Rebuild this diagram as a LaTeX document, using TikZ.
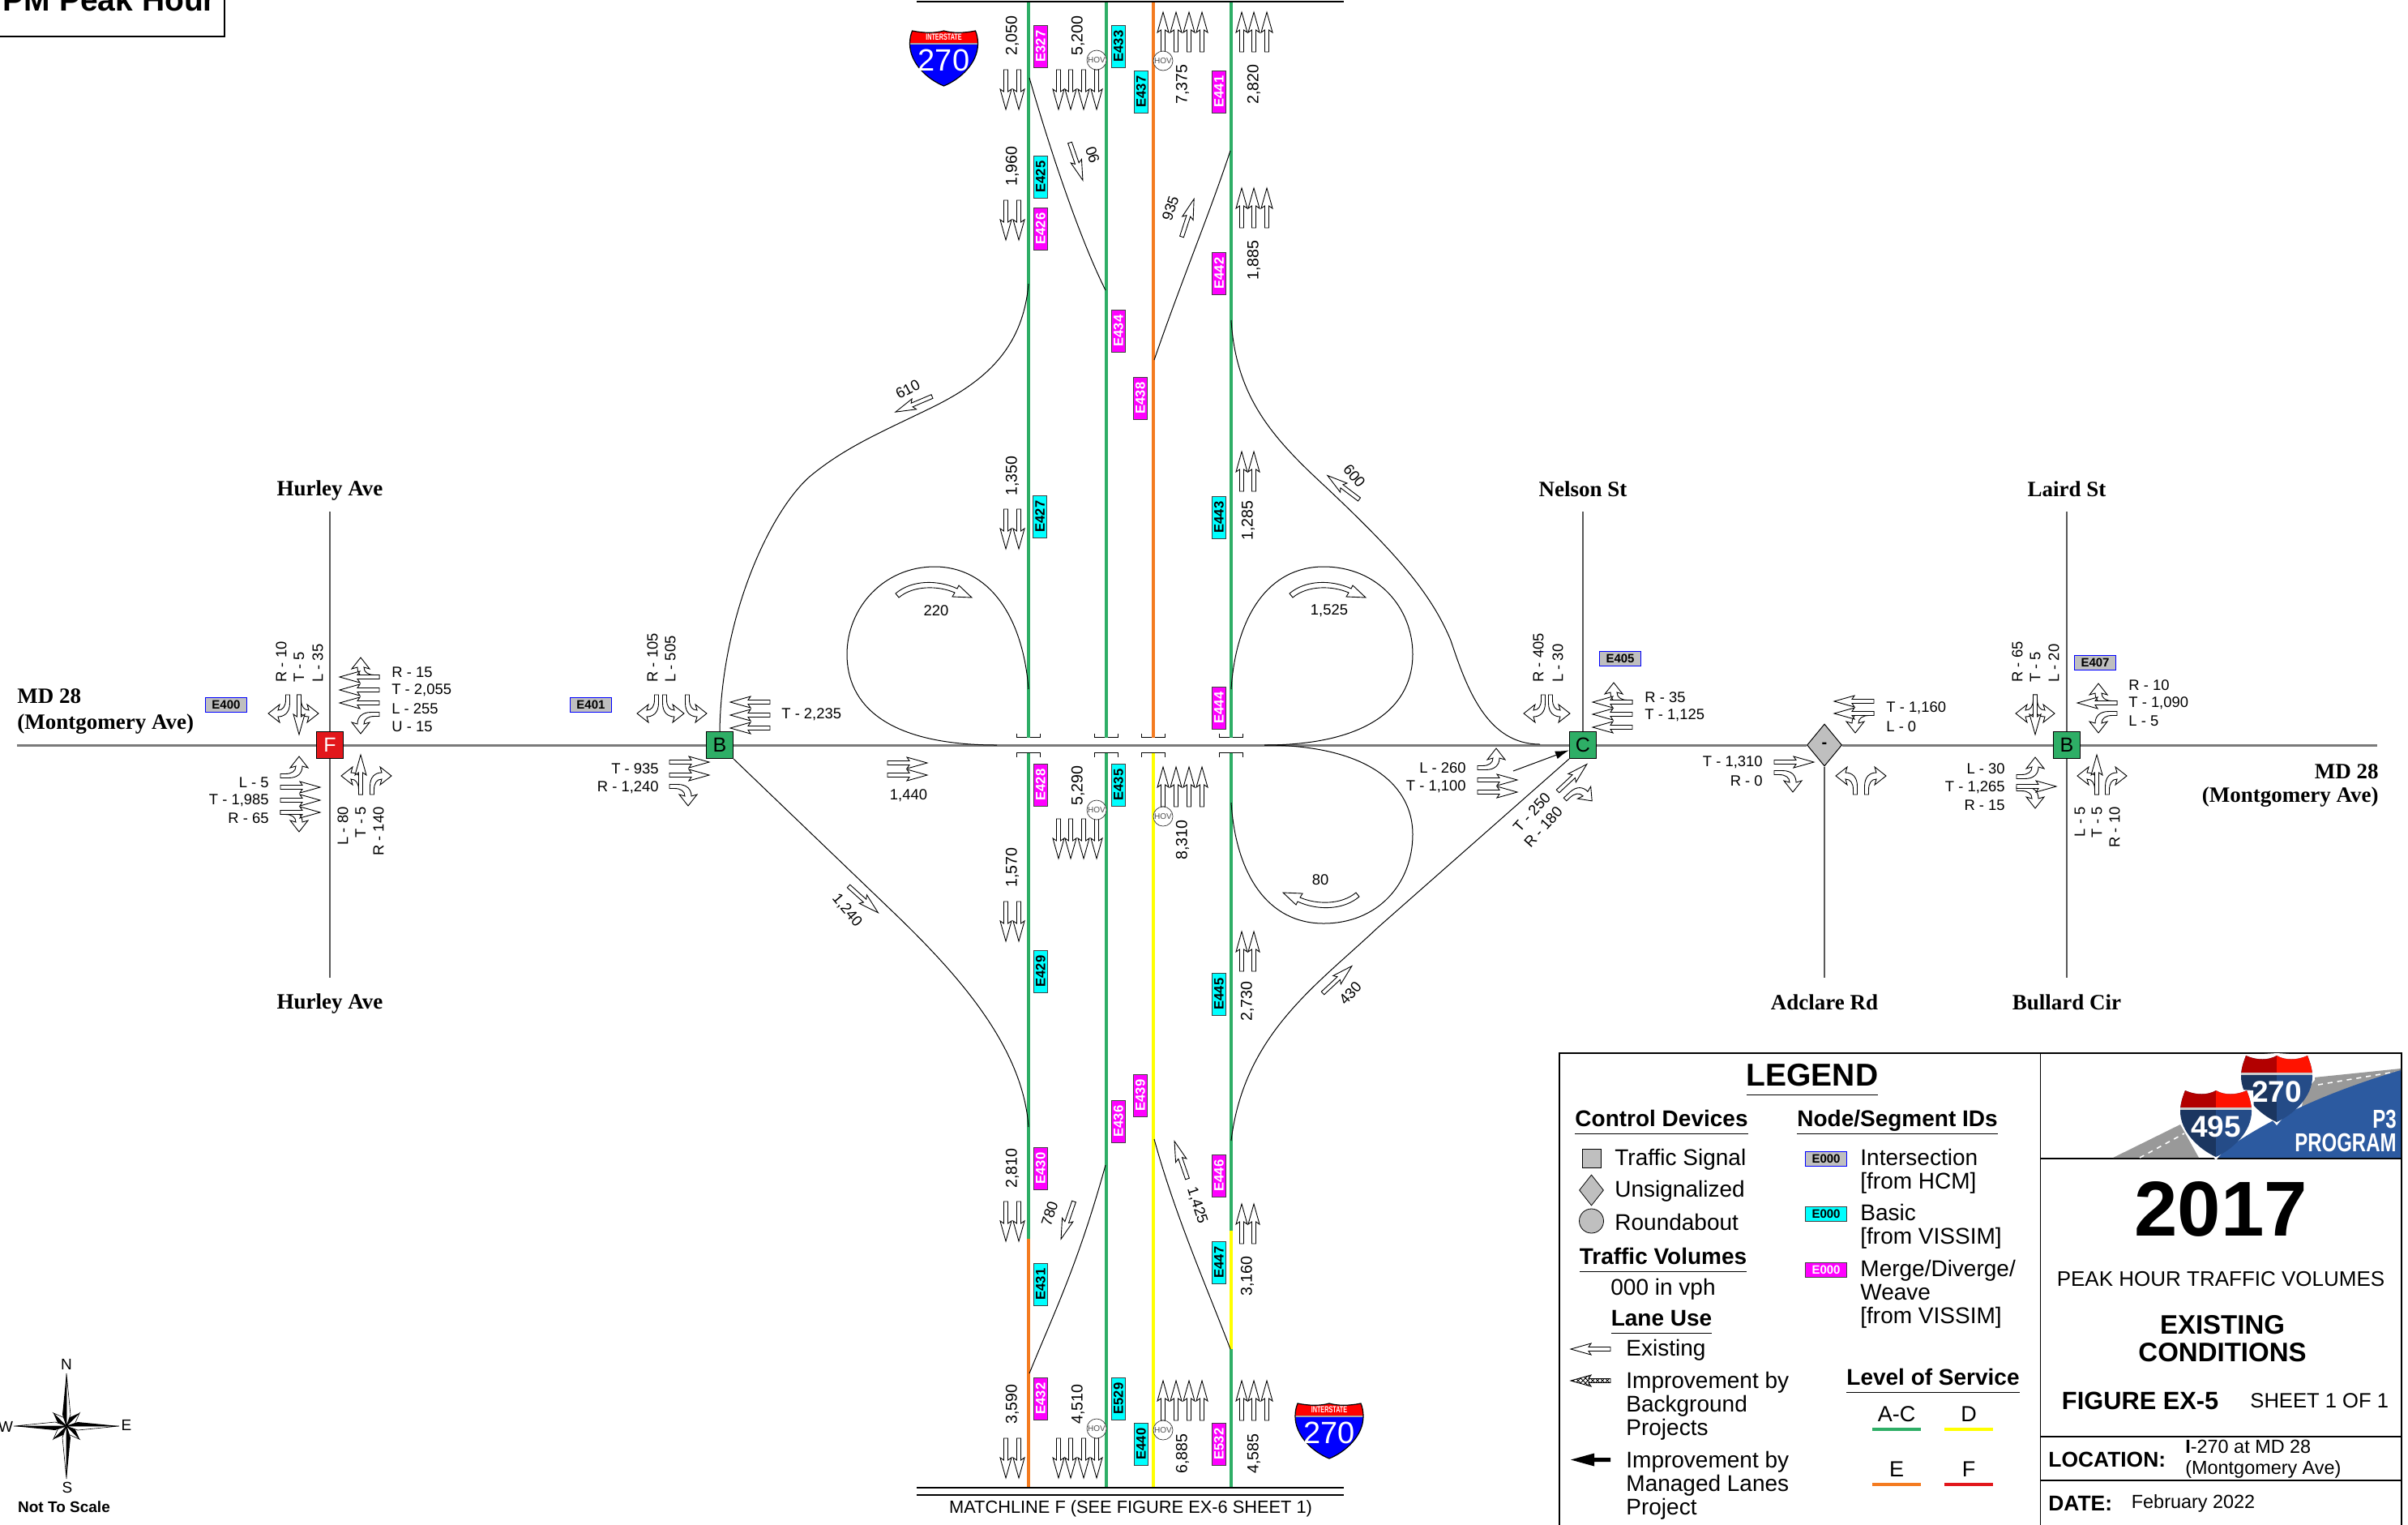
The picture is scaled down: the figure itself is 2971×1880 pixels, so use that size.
\documentclass[tikz,border=0pt]{standalone}
\usepackage{fontspec}
\setmainfont{Liberation Sans}
\newfontfamily\roadfont{Liberation Serif}
\usepackage{tikz}
\usetikzlibrary{arrows.meta,positioning,calc,shapes.geometric,patterns}
\definecolor{losgreen}{HTML}{2EAE66}
\definecolor{losorange}{HTML}{F47B20}
\definecolor{losyellow}{HTML}{FFFF00}
\definecolor{losred}{HTML}{E2171B}
\definecolor{idgrey}{HTML}{BFBFBF}
\definecolor{idcyan}{HTML}{00FFFF}
\definecolor{idmagenta}{HTML}{FF00FF}
\definecolor{shieldred}{HTML}{FF0000}
\definecolor{shieldblue}{HTML}{0000FF}
\definecolor{p3blue}{HTML}{2C5AA0}
\newcommand{\pt}[1]{\fontsize{#1}{#1}\selectfont}
\newcommand{\ultext}[1]{\underline{#1\vphantom{g}}}
% arrow outlines: tail at the origin, heading up
\newcommand{\thrushape}{(-2.5,0) -- (-2.5,-27) -- (-7,-24) -- (0,-49) -- (7,-24) -- (2.5,-27) -- (2.5,0) -- cycle}
\newcommand{\turnshape}{(2.5,0) -- (2.5,-10) .. controls (2.5,-22) and (-4,-27) .. (-12,-27) -- (-10,-34) -- (-24,-23) -- (-10,-12) -- (-12,-19) .. controls (-6,-19) and (-2.5,-14) .. (-2.5,-6) -- (-2.5,0) -- cycle}
\newcommand{\shieldshape}{(-39,0) .. controls (-25,3) and (-10,3) .. (0,0) .. controls (10,3) and (25,3) .. (39,0) .. controls (41,5) and (42,10) .. (42,16) .. controls (42,40) and (20,60) .. (0,68) .. controls (-20,60) and (-42,40) .. (-42,16) .. controls (-42,10) and (-41,5) .. (-39,0) -- cycle}
\newcommand{\logoshape}{(-38,0) .. controls (-25,6) and (-10,6) .. (0,0) .. controls (10,6) and (25,6) .. (38,0) .. controls (41,8) and (44,16) .. (44,26) .. controls (44,50) and (22,72) .. (0,82) .. controls (-22,72) and (-44,50) .. (-44,26) .. controls (-44,16) and (-41,8) .. (-38,0) -- cycle}
\tikzset{%
  lanearrow/.style={draw=black,fill=white,line width=0.45pt,line join=miter},
  pics/thruarrow/.style={code={\draw[lanearrow] \thrushape;}},
  pics/hatcharrow/.style={code={\draw[lanearrow,pattern=crosshatch] \thrushape;}},
  pics/blackarrow/.style={code={\fill[black] (-2.5,0) -- (-2.5,-20) -- (-8,-20) -- (0,-49) -- (8,-20) -- (2.5,-20) -- (2.5,0) -- cycle;}},
  pics/lturnarrow/.style={code={\draw[lanearrow] \turnshape;}},
  pics/rturnarrow/.style={code={\draw[lanearrow,xscale=-1] \turnshape;}},
  pics/arcarrow/.style={code={\draw[lanearrow] (-2,-3) .. controls (18,-20) and (50,-20) .. (74,-9) -- (76,-13) -- (92,2) -- (68,1) -- (71,-4) .. controls (50,-13) and (20,-13) .. (2,2) -- cycle;}},
  pics/longpoint/.style={code={%
    \draw[black,fill=white,line width=0.3pt] (0,0) -- (5,-14) -- (0,-65) -- cycle;
    \fill[black] (0,0) -- (-5,-14) -- (0,-65) -- cycle;}},
  pics/shortpoint/.style={code={%
    \draw[black,fill=white,line width=0.3pt] (0,0) -- (5,-10) -- (0,-23) -- cycle;
    \fill[black] (0,0) -- (-5,-10) -- (0,-23) -- cycle;}},
  pics/shield/.style={code={%
    \fill[shieldblue] \shieldshape;
    \begin{scope}
      \clip \shieldshape;
      \fill[shieldred] (-45,-5) rectangle (45,15);
      \fill[black!35] (-45,15) rectangle (45,16.5);
    \end{scope}
    \draw[black,line width=0.6pt] \shieldshape;
    \node[text=white,font=\bfseries\pt{5.5},inner sep=0] (-band) at (0,7.5) {\scalebox{0.66}[1]{INTERSTATE}};
    \node[text=white,font=\pt{19},inner sep=0] (-num) at (0,36) {270};}},
  pics/logoshield/.style={code={%
    \fill[white] (0,-3) -- (46,0) -- (47,30) -- (0,86) -- (-47,30) -- (-46,0) -- cycle;
    \begin{scope}
      \clip \logoshape;
      \fill[p3blue!85!black] (0,-5) rectangle (50,90);
      \fill[p3blue!60!black] (-50,-5) rectangle (0,90);
      \fill[shieldred!85!orange] (0,-5) rectangle (50,21);
      \fill[shieldred!70!black] (-50,-5) rectangle (0,21);
      \fill[white!80!black] (-50,21) rectangle (50,24);
    \end{scope}
    \node[text=white,font=\bfseries\pt{18.5},inner sep=0] (-num) at (0,45) {#1};}}
}

\begin{document}
\begin{tikzpicture}[
    x=0.5pt,
    y=-0.5pt,
    intnode/.style={draw=black,line width=0.6pt,minimum size=16.5pt,inner sep=0,font=\pt{12.5}},
    stopnode/.style={diamond,draw=black,line width=0.5pt,fill=idgrey,minimum width=21.5pt,minimum height=26pt,inner sep=0,font=\bfseries\pt{10}},
    roadname/.style={font=\roadfont\bfseries\pt{13.5}},
    turnlabel/.style={font=\pt{9.2},inner sep=0},
    vollabel/.style={font=\pt{9.8},inner sep=0},
    ramplabel/.style={font=\pt{9.2},inner sep=0},
    nodeid/.style={draw=blue,line width=0.5pt,fill=idgrey,minimum width=25.5pt,minimum height=9pt,inner sep=0,font=\bfseries\pt{7.5}},
    basicid/.style={draw=black!75,line width=0.5pt,fill=idcyan,rotate=90,minimum width=26pt,minimum height=8.5pt,inner sep=0,font=\bfseries\pt{8.3}},
    mergeid/.style={draw=black!75,line width=0.5pt,fill=idmagenta,text=white,rotate=90,minimum width=26pt,minimum height=8.5pt,inner sep=0,font=\bfseries\pt{8.3}},
    hovtag/.style={circle,draw=black!80,line width=0.35pt,fill=white,minimum size=12pt,inner sep=0,text=black!70,font=\pt{5}},
    road/.style={draw=black!52,line width=1.5pt},
    street/.style={draw=black!65,line width=0.7pt},
    ramp/.style={draw=black,line width=0.5pt},
    lane/.style={line width=1.7pt},
    legendhead/.style={font=\bfseries\pt{14},inner sep=0},
    legendtxt/.style={font=\fontsize{14}{14.5}\selectfont,align=left,anchor=west,inner sep=0},
    losbar/.style={line width=2pt}
]
\path[use as bounding box,clip] (0,0) rectangle (2971,1880);

% Intersections on MD 28
\node[intnode,fill=losred,text=white] (intF) at (407,919) {F};
\node[intnode,fill=losgreen] (intB) at (888,919) {B};
\node[intnode,fill=losgreen] (intC) at (1953,919) {C};
\node[stopnode] (intA) at (2251,919) {-};
\node[intnode,fill=losgreen] (intL) at (2550,919) {B};

\coordinate (mdwest) at (21,919);
\coordinate (mdeast) at (2933,919);
\draw[road] (mdwest) -- (intF) -- (intB) -- (intC) -- (intA) -- (intL) -- (mdeast);

\coordinate (hurleyN) at (407,631);
\coordinate (hurleyS) at (407,1206);
\coordinate (nelsonN) at (1953,631);
\coordinate (lairdN) at (2550,631);
\coordinate (lairdS) at (2550,1206);
\coordinate (adclareS) at (2251,1206);
\draw[street] (hurleyN) -- (intF) -- (hurleyS);
\draw[street] (nelsonN) -- (intC);
\draw[street] (lairdN) -- (intL) -- (lairdS);
\draw[street] (intA) -- (adclareS);

\node[roadname] (nameHurleyN) at (407,605) {Hurley Ave};
\node[roadname] (nameHurleyS) at (407,1238) {Hurley Ave};
\node[roadname] (nameNelson) at (1953,603) {Nelson St};
\node[roadname] (nameLaird) at (2550,603) {Laird St};
\node[roadname] (nameAdclare) at (2251,1236) {Adclare Rd};
\node[roadname] (nameBullard) at (2550,1236) {Bullard Cir};
\node[roadname,anchor=west,inner sep=0,align=left,font=\roadfont\bfseries\fontsize{13.5}{16}\selectfont] (nameMdW) at (21,877) {MD 28\\(Montgomery Ave)};
\node[roadname,anchor=east,inner sep=0,align=right,font=\roadfont\bfseries\fontsize{13.5}{14.5}\selectfont] (nameMdE) at (2935,969) {MD 28\\(Montgomery Ave)};

% Freeway lanes
\foreach \lname/\lx in {a/1269,b/1365,c/1423,d/1519} {
  \coordinate (\lname top) at (\lx,2);
  \coordinate (\lname upper) at (\lx,909.5);
  \coordinate (\lname lower) at (\lx,928.5);
  \coordinate (\lname bot) at (\lx,1835);
  \draw[line width=0.5pt] ($(\lname upper)+(-14.5,-5)$) -- ++(0,5) -- ++(29,0) -- ++(0,-5);
  \draw[line width=0.5pt] ($(\lname lower)+(-14.5,5)$) -- ++(0,-5) -- ++(29,0) -- ++(0,5);
}
\coordinate (aswitch) at (1269,1527.5);
\coordinate (dswitch) at (1519,1517.5);
\coordinate (dback) at (1519,1664);
\draw[lane,losgreen] (atop) -- (aupper);
\draw[lane,losgreen] (btop) -- (bupper);
\draw[lane,losorange] (ctop) -- (cupper);
\draw[lane,losgreen] (dtop) -- (dupper);
\draw[lane,losgreen] (alower) -- (aswitch);
\draw[lane,losorange] (aswitch) -- (abot);
\draw[lane,losgreen] (blower) -- (bbot);
\draw[lane,losyellow] (clower) -- (cbot);
\draw[lane,losgreen] (dlower) -- (dswitch);
\draw[lane,losyellow] (dswitch) -- (dback);
\draw[lane,losgreen] (dback) -- (dbot);

\coordinate (mltopL) at (1131,2);
\coordinate (mltopR) at (1658,2);
\coordinate (mlbotL) at (1131,1835);
\coordinate (mlbotR) at (1658,1835);
\coordinate (mlthinL) at (1131,1844);
\coordinate (mlthinR) at (1658,1844);
\draw[line width=1.3pt] (mltopL) -- (mltopR);
\draw[line width=1.3pt] (mlbotL) -- (mlbotR);
\draw[line width=0.6pt] (mlthinL) -- (mlthinR);
\node[font=\pt{10.9},inner sep=0] (matchline) at (1395,1861) {MATCHLINE F (SEE FIGURE EX-6 SHEET 1)};

% Ramps
\draw[ramp] (1270,96) .. controls (1300,200) and (1335,300) .. (1364,358);
\draw[ramp] (1424,444) .. controls (1460,340) and (1490,270) .. (1518,186);
\draw[ramp] (1364,1437) .. controls (1330,1560) and (1300,1620) .. (1270,1694);
\draw[ramp] (1424,1405) .. controls (1450,1500) and (1490,1590) .. (1518,1664);
\draw[ramp] (1269,350) .. controls (1262,430) and (1215,470) .. (1153,501) .. controls (1090,532) and (1045,550) .. (1000,587) .. controls (950,630) and (890,760) .. (intB.north);
\draw[ramp] (1519,395) .. controls (1525,490) and (1570,540) .. (1635,600) .. controls (1720,680) and (1765,730) .. (1790,790) .. controls (1810,850) and (1835,918) .. (1900,918);
\draw[ramp] (1269,850) .. controls (1262,760) and (1220,699) .. (1153,699) .. controls (1090,699) and (1045,750) .. (1045,807) .. controls (1045,870) and (1095,919) .. (1230,919);
\draw[ramp] (1519,850) .. controls (1525,760) and (1565,699) .. (1633,699) .. controls (1700,699) and (1743,750) .. (1743,807) .. controls (1743,870) and (1690,919) .. (1560,919);
\draw[ramp] (1560,919) .. controls (1690,919) and (1743,970) .. (1743,1029) .. controls (1743,1090) and (1700,1139) .. (1633,1139) .. controls (1565,1139) and (1525,1080) .. (1519,990);
\draw[ramp] (intB.south east) -- (1102,1125) .. controls (1180,1200) and (1262,1290) .. (1269,1390);
\draw[ramp] (intC.south west) -- (1700,1144) .. controls (1625,1215) and (1535,1275) .. (1519,1407);

% Freeway lane arrows
\foreach \py in {86,247,628,1112,1482,1774} \foreach \px in {1241,1257} \pic[rotate=180] at (\px,\py) {thruarrow};
\foreach \py in {86,1010,1774} \foreach \px in {1306,1321,1337,1353} \pic[rotate=180] at (\px,\py) {thruarrow};
\foreach \py in {64,995,1752} \foreach \px in {1435,1451,1467,1483} \pic at (\px,\py) {thruarrow};
\foreach \py in {64,281,1752} \foreach \px in {1532,1547,1563} \pic at (\px,\py) {thruarrow};
\foreach \py in {606,1198,1534} \foreach \px in {1532,1547} \pic at (\px,\py) {thruarrow};

% Turning movements and ramp arrows
\foreach \px/\py/\ang in {355/857/180,459/980/0,346/1002/-90,468/835/90,
    810/857/180,826/970/-90,1904/857/180,2014/866/90,1931/986/-47,
    2189/953/-90,2303/980/0,2511/857/180,2612/867/90,2488/973/-90,2600/980/0}
  \pic[rotate=\ang] at (\px,\py) {rturnarrow};
\foreach \px/\py/\ang in {369/857/180,468/881/90,346/957/-90,445/980/0,
    820/857/180,848/857/180,1823/947/-90,1913/857/180,
    2312/880/90,2289/980/0,2511/857/180,2612/880/90,2488/958/-90,2587/980/0}
  \pic[rotate=\ang] at (\px,\py) {lturnarrow};
\foreach \px/\py/\ang in {369/857/180,468/835/90,468/851/90,468/867/90,346/971/-90,346/987/-90,346/1002/-90,445/980/0,
    950/866/90,950/882/90,950/898/90,826/940/-90,826/956/-90,1095/941/-90,1095/956/-90,
    2014/866/90,2014/881/90,2014/897/90,1823/962/-90,1823/977/-90,1922/976/-47,
    2312/865/90,2312/880/90,2189/940/-90,2511/857/180,2612/867/90,2488/970/-90,2587/980/0,
    1320/176/-161,1458/292/-18,1150/489/113,1677/616/53,1047/1093/-132,1632/1225/-47,1325/1482/161,1465/1454/19}
  \pic[rotate=\ang] at (\px,\py) {thruarrow};
\foreach \px/\py/\ang in {1107/735/0,1593/735/0,1675/1103/180}
  \pic[rotate=\ang] at (\px,\py) {arcarrow};
\coordinate (managedtail) at (1867,951);
\draw[-{Latex[length=8.5pt,width=5pt]},line width=0.5pt] (managedtail) -- (intC);

% HOV tags
\foreach \px/\py [count=\i] in {1353/74,1435/75,1353/999,1435/1007,1353/1762,1435/1764}
  \node[hovtag] (hov\i) at (\px,\py) {HOV};

% Movement volumes
\foreach \px/\py/\txt [count=\i] in {483/829/R - 15,483/851/{T - 2,055},483/874/L - 255,483/896/U - 15,964/881/{T - 2,235},
    2029/860/R - 35,2029/882/{T - 1,125},2327/873/{T - 1,160},2327/896/L - 0,2626/845/R - 10,2626/867/{T - 1,090},2626/889/L - 5}
  \node[turnlabel,anchor=west] (moveE\i) at (\px,\py) {\txt};
\foreach \px/\py/\txt [count=\i] in {332/965/L - 5,332/987/{T - 1,985},332/1009/R - 65,813/948/T - 935,813/971/{R - 1,240},
    1809/947/L - 260,1809/970/{T - 1,100},2175/940/{T - 1,310},2175/963/R - 0,2474/948/L - 30,2474/971/{T - 1,265},2474/993/R - 15}
  \node[turnlabel,anchor=east] (moveW\i) at (\px,\py) {\txt};
\foreach \px/\txt [count=\i] in {347/R - 10,369/T - 5,392/L - 35,805/R - 105,827/L - 505,1898/R - 405,1922/L - 30,2489/R - 65,2511/T - 5,2534/L - 20}
  \node[turnlabel,rotate=90,anchor=west] (moveN\i) at (\px,842) {\txt};
\foreach \px/\txt [count=\i] in {423/L - 80,445/T - 5,467/R - 140,2566/L - 5,2587/T - 5,2609/R - 10}
  \node[turnlabel,rotate=90,anchor=east] (moveS\i) at (\px,995) {\txt};

% Link volumes
\foreach \px/\py/\txt [count=\i] in {1249/44/{2,050},1330/44/{5,200},1459/104/{7,375},1547/104/{2,820},
    1249/205/{1,960},1547/321/{1,885},1249/587/{1,350},1540/642/{1,285},
    1330/969/{5,290},1459/1036/{8,310},1249/1070/{1,570},1539/1235/{2,730},
    1249/1441/{2,810},1539/1574/{3,160},1249/1732/{3,590},1330/1732/{4,510},1459/1793/{6,885},1547/1793/{4,585}}
  \node[vollabel,rotate=90] (vol\i) at (\px,\py) {\txt};
\foreach \px/\py/\ang/\txt [count=\i] in {1348/191/108/90,1444/257/72/935,1120/480/28/610,1671/587/-50/600,
    1155/753/0/220,1640/753/0/{1,525},1629/1085/0/80,1121/981/0/{1,440},
    1045/1123/-50/{1,240},1666/1225/48/430,1295/1497/72/780,1477/1487/-72/{1,425},
    1890/1002/48/{T - 250},1904/1020/48/{R - 180}}
  \node[ramplabel,rotate=\ang] (rampvol\i) at (\px,\py) {\txt};

% Node and segment IDs
\foreach \px/\py/\txt in {279/869/E400,729/869/E401,1999/812/E405,2585/817/E407}
  \node[nodeid] (\txt) at (\px,\py) {\txt};
\foreach \px/\py/\txt in {1284/218/E425,1283/637/E427,1380/57/E433,1408/113/E437,1504/638/E443,1380/968/E435,1284/1198/E429,1504/1226/E445,1284/1584/E431,1504/1557/E447,1380/1725/E529,1408/1781/E440}
  \node[basicid] (\txt) at (\px,\py) {\txt};
\foreach \px/\py/\txt in {1284/57/E327,1284/282/E426,1504/113/E441,1504/337/E442,1380/408/E434,1407/491/E438,1504/873/E444,1284/968/E428,1284/1441/E430,1284/1725/E432,1380/1383/E436,1407/1351/E439,1504/1450/E446,1504/1781/E532}
  \node[mergeid] (\txt) at (\px,\py) {\txt};

% Route shields
\pic (shieldN) at (1164.5,38) {shield};
\pic (shieldS) at (1640,1731) {shield};

% Title tab and north arrow
\coordinate (tabcorner) at (277,45);
\draw[line width=0.6pt] (-5,45) -- (tabcorner) -- (277,-5);
\node[font=\bfseries\pt{19.5},anchor=base,inner sep=0] (peakhour) at (135,13.5) {PM Peak Hour};
\coordinate (compass) at (82,1759);
\foreach \ang in {45,135,225,315} \pic[rotate=\ang] at (compass) {shortpoint};
\foreach \ang in {0,90,180,270} \pic[rotate=\ang] at (compass) {longpoint};
\node[font=\pt{9.5},inner sep=0] (compN) at (82,1683) {N};
\node[font=\pt{9.5},inner sep=0] (compS) at (83,1835) {S};
\node[font=\pt{9.5},inner sep=0] (compE) at (156,1758) {E};
\node[font=\pt{9.5},inner sep=0] (compW) at (7,1760) {W};
\node[font=\bfseries\pt{9.5},inner sep=0] (notscale) at (79,1859) {Not To Scale};

% Legend frame
\draw[line width=0.8pt] (1924,1890) -- (1924,1299) -- (2963,1299) -- (2963,1890);
\draw[line width=0.8pt] (2517.5,1299) -- (2517.5,1890);
\draw[line width=1.2pt] (2517.5,1429) -- (2963,1429);
\draw[line width=1pt] (2517.5,1771.5) -- (2963,1771.5);
\draw[line width=0.8pt] (2517.5,1826) -- (2963,1826);

% Legend
\node[font=\bfseries\pt{19.5},inner sep=0] (legendtitle) at (2236,1332) {\ultext{LEGEND}};
\node[legendhead] (lgcontrol) at (2050,1384) {\ultext{Control Devices}};
\node[legendhead] (lgnodes) at (2341,1384) {\ultext{Node/Segment IDs}};
\node[draw=black,fill=idgrey,minimum size=11.5pt,inner sep=0] (lgsignal) at (1963.5,1429) {};
\node[diamond,draw=black,fill=idgrey,minimum width=15pt,minimum height=19pt,inner sep=0] (lgstop) at (1963.5,1468) {};
\node[circle,draw=black,fill=idgrey,minimum size=15pt,inner sep=0] (lground) at (1963.5,1506) {};
\node[legendtxt] (lgsignaltxt) at (1992,1430) {Traffic Signal};
\node[legendtxt] (lgstoptxt) at (1992,1469) {Unsignalized};
\node[legendtxt] (lgroundtxt) at (1992,1507) {Roundabout};
\node[legendhead] (lgvolumes) at (2052,1554.5) {\ultext{Traffic Volumes}};
\node[font=\pt{14},inner sep=0] (lgvph) at (2052,1590) {000 in vph};
\node[legendhead] (lglanes) at (2050,1630.5) {\ultext{Lane Use}};
\pic[rotate=90] at (1987,1664) {thruarrow};
\pic[rotate=90] at (1987,1703) {hatcharrow};
\pic[rotate=90] at (1987,1800.5) {blackarrow};
\node[legendtxt] (lgexist) at (2006,1665) {Existing};
\node[legendtxt] (lgbackgr) at (2006,1734) {Improvement by\\Background\\Projects};
\node[legendtxt] (lgmanaged) at (2006,1832) {Improvement by\\Managed Lanes\\Project};
\node[nodeid] (lgE1) at (2253,1429) {E000};
\node[nodeid,draw=black!75,fill=idcyan] (lgE2) at (2253,1497) {E000};
\node[nodeid,draw=black!75,fill=idmagenta,text=white] (lgE3) at (2253,1566) {E000};
\node[legendtxt] (lghcm) at (2295,1445) {Intersection\\{[from HCM]}};
\node[legendtxt] (lgbasic) at (2295,1513) {Basic\\{[from VISSIM]}};
\node[legendtxt] (lgmerge) at (2295,1596.5) {Merge/Diverge/\\Weave\\{[from VISSIM]}};
\node[legendhead] (lglos) at (2385,1703) {\ultext{Level of Service}};
\foreach \px/\py/\txt/\col in {2340/1744/A-C/losgreen,2429/1744/D/losyellow,2340/1812/E/losorange,2429/1812/F/losred} {
  \node[font=\pt{13.5},inner sep=0] (los\txt) at (\px,\py) {\txt};
  \draw[losbar,\col] ($(los\txt)+(-30,19)$) -- ++(60,0);
}

% Program logo
\fill[black!40] (2607,1428) -- (2690,1387) -- (2713,1428) -- cycle;
\fill[black!40] (2845,1330) -- (2962,1318) -- (2962,1322) -- (2840,1365) -- cycle;
\draw[white,line width=0.8pt,dashed] (2640,1428) -- (2695,1398);
\draw[white,line width=0.8pt,dashed] (2860,1338) -- (2955,1322);
\fill[p3blue] (2733,1428) .. controls (2780,1390) and (2860,1350) .. (2962,1320) -- (2962,1428) -- cycle;
\pic (logoA) at (2809,1302) {logoshield=270};
\pic (logoB) at (2734,1345) {logoshield=495};
\node[anchor=east,text=white,font=\bfseries\pt{16},inner sep=0] (logoP3) at (2957,1380) {\scalebox{0.75}[1]{P3}};
\node[anchor=east,text=white,font=\bfseries\pt{16},inner sep=0] (logoProg) at (2957,1409) {\scalebox{0.75}[1]{PROGRAM}};

% Title block
\node[font=\bfseries\pt{48},inner sep=0] (tbyear) at (2740,1491) {2017};
\node[font=\pt{13},inner sep=0] (tbpeak) at (2740,1578) {PEAK HOUR TRAFFIC VOLUMES};
\node[font=\bfseries\fontsize{16.5}{17}\selectfont,align=center,inner sep=0] (tbexist) at (2742,1651) {EXISTING\\CONDITIONS};
\node[font=\bfseries\pt{15.4},anchor=west,inner sep=0] (tbfigure) at (2543.5,1727.5) {FIGURE EX-5};
\node[font=\pt{12.8},anchor=west,inner sep=0] (tbsheet) at (2776,1727.5) {SHEET 1 OF 1};
\node[font=\bfseries\pt{13.2},anchor=west,inner sep=0] (tbloc) at (2527,1800) {LOCATION:};
\node[font=\fontsize{11.7}{13}\selectfont,anchor=west,align=left,inner sep=0] (tblocval) at (2696,1800) {\textbf{I}-270 at MD 28\\(Montgomery Ave)};
\node[font=\bfseries\pt{13.2},anchor=west,inner sep=0] (tbdate) at (2527,1854) {DATE:};
\node[font=\pt{11.7},anchor=west,inner sep=0] (tbdateval) at (2629.5,1854) {February 2022};

\end{tikzpicture}
\end{document}
